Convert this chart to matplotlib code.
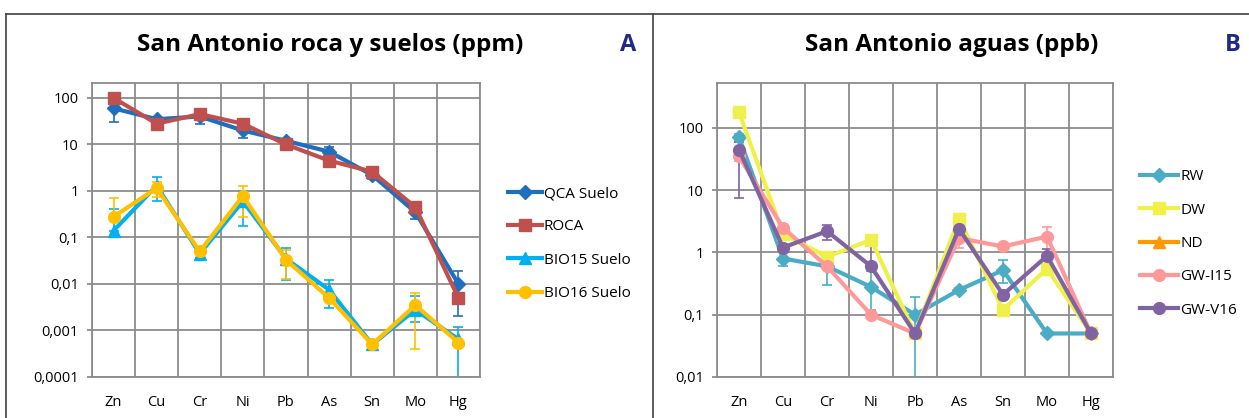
import numpy as np
import matplotlib
matplotlib.use("Agg")
import matplotlib.pyplot as plt
from matplotlib.lines import Line2D
from matplotlib.ticker import FixedLocator, NullFormatter

plt.rcParams['font.family'] = ['Open Sans', 'DejaVu Sans']

elementos = ['Zn', 'Cu', 'Cr', 'Ni', 'Pb', 'As', 'Sn', 'Mo', 'Hg']

# A: roca y suelos (ppm) - valor medio y extremos de la barra de error
qca = [60, 35, 40, 20, 12, 7, 2.2, 0.35, 0.01]
qca_lo = [30, 32, 28, 14, 11, 5, 1.8, 0.25, 0.002]
qca_hi = [90, 38, 50, 26, 13, 9, 2.6, 0.45, 0.019]
roca = [100, 28, 45, 28, 10, 4.5, 2.6, 0.45, 0.005]
bio15 = [0.14, 1.3, 0.045, 0.6, 0.035, 0.0075, 0.0005, 0.0028, 0.00065]
bio15_lo = [0.14, 0.6, 0.037, 0.18, 0.012, 0.003, 0.0004, 0.0015, 0.00001]
bio15_hi = [0.41, 2.0, 0.053, 1.0, 0.058, 0.012, 0.0006, 0.0055, 0.0012]
bio16 = [0.28, 1.15, 0.05, 0.78, 0.033, 0.005, 0.0005, 0.0035, 0.00055]
bio16_lo = [0.28, 0.75, 0.044, 0.28, 0.013, 0.0045, 0.00045, 0.0004, 0.0005]
bio16_hi = [0.7, 1.55, 0.056, 1.28, 0.053, 0.0055, 0.00055, 0.0065, 0.0006]

# B: aguas (ppb)
rw = [71, 0.8, 0.6, 0.28, 0.1, 0.25, 0.52, 0.05, 0.05]
rw_lo = [62, 0.6, 0.3, 0.12, 0.001, 0.23, 0.32, 0.048, 0.048]
rw_hi = [80, 1.0, 0.9, 0.5, 0.19, 0.27, 0.75, 0.052, 0.052]
dw = [180, 2.0, 0.85, 1.6, 0.05, 3.5, 0.12, 0.55, 0.05]
nd = [np.nan] * 9
gw_i15 = [35, 2.5, 0.6, 0.1, 0.05, 1.7, 1.25, 1.8, 0.05]
gw_i15_lo = [30, 2.2, 0.55, 0.09, 0.045, 1.2, 1.15, 1.0, 0.045]
gw_i15_hi = [40, 2.8, 0.65, 0.11, 0.055, 2.2, 1.35, 2.6, 0.055]
gw_v16 = [45, 1.2, 2.2, 0.6, 0.05, 2.4, 0.21, 0.88, 0.05]
gw_v16_lo = [7.5, 1.1, 1.6, 0.55, 0.045, 2.2, 0.18, 0.65, 0.045]
gw_v16_hi = [60, 1.3, 2.8, 1.25, 0.055, 2.6, 0.24, 1.15, 0.055]

W, H = 1249, 418
fig = plt.figure(figsize=(W / 100, H / 100), dpi=100)

grid_c = '#8c8c8c'
titulo_c = '#1f2a86'

def style_axes(ax, ticks, labels, ymin, ymax):
    ax.set_yscale('log')
    ax.set_xlim(-0.5, 8.5)
    ax.set_ylim(ymin, ymax)
    ax.yaxis.set_major_locator(FixedLocator(ticks))
    ax.yaxis.set_minor_locator(FixedLocator([]))
    ax.set_yticklabels(labels)
    ax.set_xticks(range(9))
    ax.set_xticklabels(elementos)
    ax.xaxis.set_minor_locator(FixedLocator(np.arange(-0.5, 9, 1)))
    ax.xaxis.set_minor_formatter(NullFormatter())
    ax.grid(True, which='major', axis='y', color=grid_c, lw=1.3)
    ax.grid(True, which='minor', axis='x', color=grid_c, lw=1.3)
    ax.tick_params(axis='x', which='both', length=0, labelsize=10.5, pad=13)
    ax.tick_params(axis='y', length=3.6, color=grid_c, width=1.3, labelsize=10.5, pad=6)
    for s in ax.spines.values():
        s.set_color(grid_c)
        s.set_linewidth(1.3)
    ax.set_axisbelow(True)

def serie(ax, y, lo, hi, color, marker, ms):
    y = np.array(y, dtype=float)
    err = None
    if lo is not None:
        err = [y - np.array(lo), np.array(hi) - y]
    ax.errorbar(range(9), y, yerr=err, color=color, marker=marker, ms=ms,
                lw=3, elinewidth=1.2, capsize=3.6, capthick=1.2)
    return Line2D([], [], color=color, marker=marker, ms=ms, lw=3)

def leyenda(ax, handles, labels, x, y, hl):
    ax.legend(handles, labels, loc='center left', bbox_to_anchor=(x / W, 1 - y / H),
              bbox_transform=fig.transFigure, frameon=False, fontsize=11,
              handlelength=hl, handletextpad=0.15, labelspacing=1.2,
              borderpad=0, borderaxespad=0)

# panel A
axA = fig.add_axes([92 / W, 1 - 377 / H, 388 / W, 294 / H])
style_axes(axA, [1e-4, 1e-3, 1e-2, 0.1, 1, 10, 100],
           ['0,0001', '0,001', '0,01', '0,1', '1', '10', '100'], 1e-4, 210)
hA = [serie(axA, qca, qca_lo, qca_hi, '#1f6fbf', 'D', 7),
      serie(axA, roca, None, None, '#c0504d', 's', 8.5),
      serie(axA, bio15, bio15_lo, bio15_hi, '#00b0f0', '^', 8),
      serie(axA, bio16, bio16_lo, bio16_hi, '#ffc000', 'o', 8.5)]
leyenda(axA, hA, ['QCA Suelo', 'ROCA', 'BIO15 Suelo', 'BIO16 Suelo'], 508, 243.5, 2.2)
fig.text(330 / W, 1 - 45 / H, 'San Antonio roca y suelos (ppm)', ha='center',
         va='center', fontsize=17.5, fontweight='bold')
fig.text(628 / W, 1 - 45 / H, 'A', ha='center', va='center', fontsize=17,
         fontweight='bold', color=titulo_c)

# panel B
axB = fig.add_axes([717 / W, 1 - 377 / H, 396 / W, 294 / H])
style_axes(axB, [0.01, 0.1, 1, 10, 100],
           ['0,01', '0,1', '1', '10', '100'], 0.01, 528)
hB = [serie(axB, rw, rw_lo, rw_hi, '#4bacc6', 'D', 7),
      serie(axB, dw, None, None, '#f0f04a', 's', 8.5),
      serie(axB, nd, None, None, '#ff9900', '^', 8),
      serie(axB, gw_i15, gw_i15_lo, gw_i15_hi, '#ff9999', 'o', 8.5),
      serie(axB, gw_v16, gw_v16_lo, gw_v16_hi, '#8064a2', 'o', 8.5)]
leyenda(axB, hB, ['RW', 'DW', 'ND', 'GW-I15', 'GW-V16'], 1140, 243.5, 2.5)
fig.text(952 / W, 1 - 45 / H, 'San Antonio aguas (ppb)', ha='center',
         va='center', fontsize=17.5, fontweight='bold')
fig.text(1233 / W, 1 - 45 / H, 'B', ha='center', va='center', fontsize=17,
         fontweight='bold', color=titulo_c)

# marcos de los paneles
top = 1 - 13.5 / H
fig.add_artist(Line2D([6 / W, 1], [top, top], color='#404040', lw=1.2))
fig.add_artist(Line2D([6 / W, 6 / W], [0, top], color='#404040', lw=1.2))
fig.add_artist(Line2D([653 / W, 653 / W], [0, top], color='#404040', lw=1.2))

fig.savefig('out.png', dpi=100)
